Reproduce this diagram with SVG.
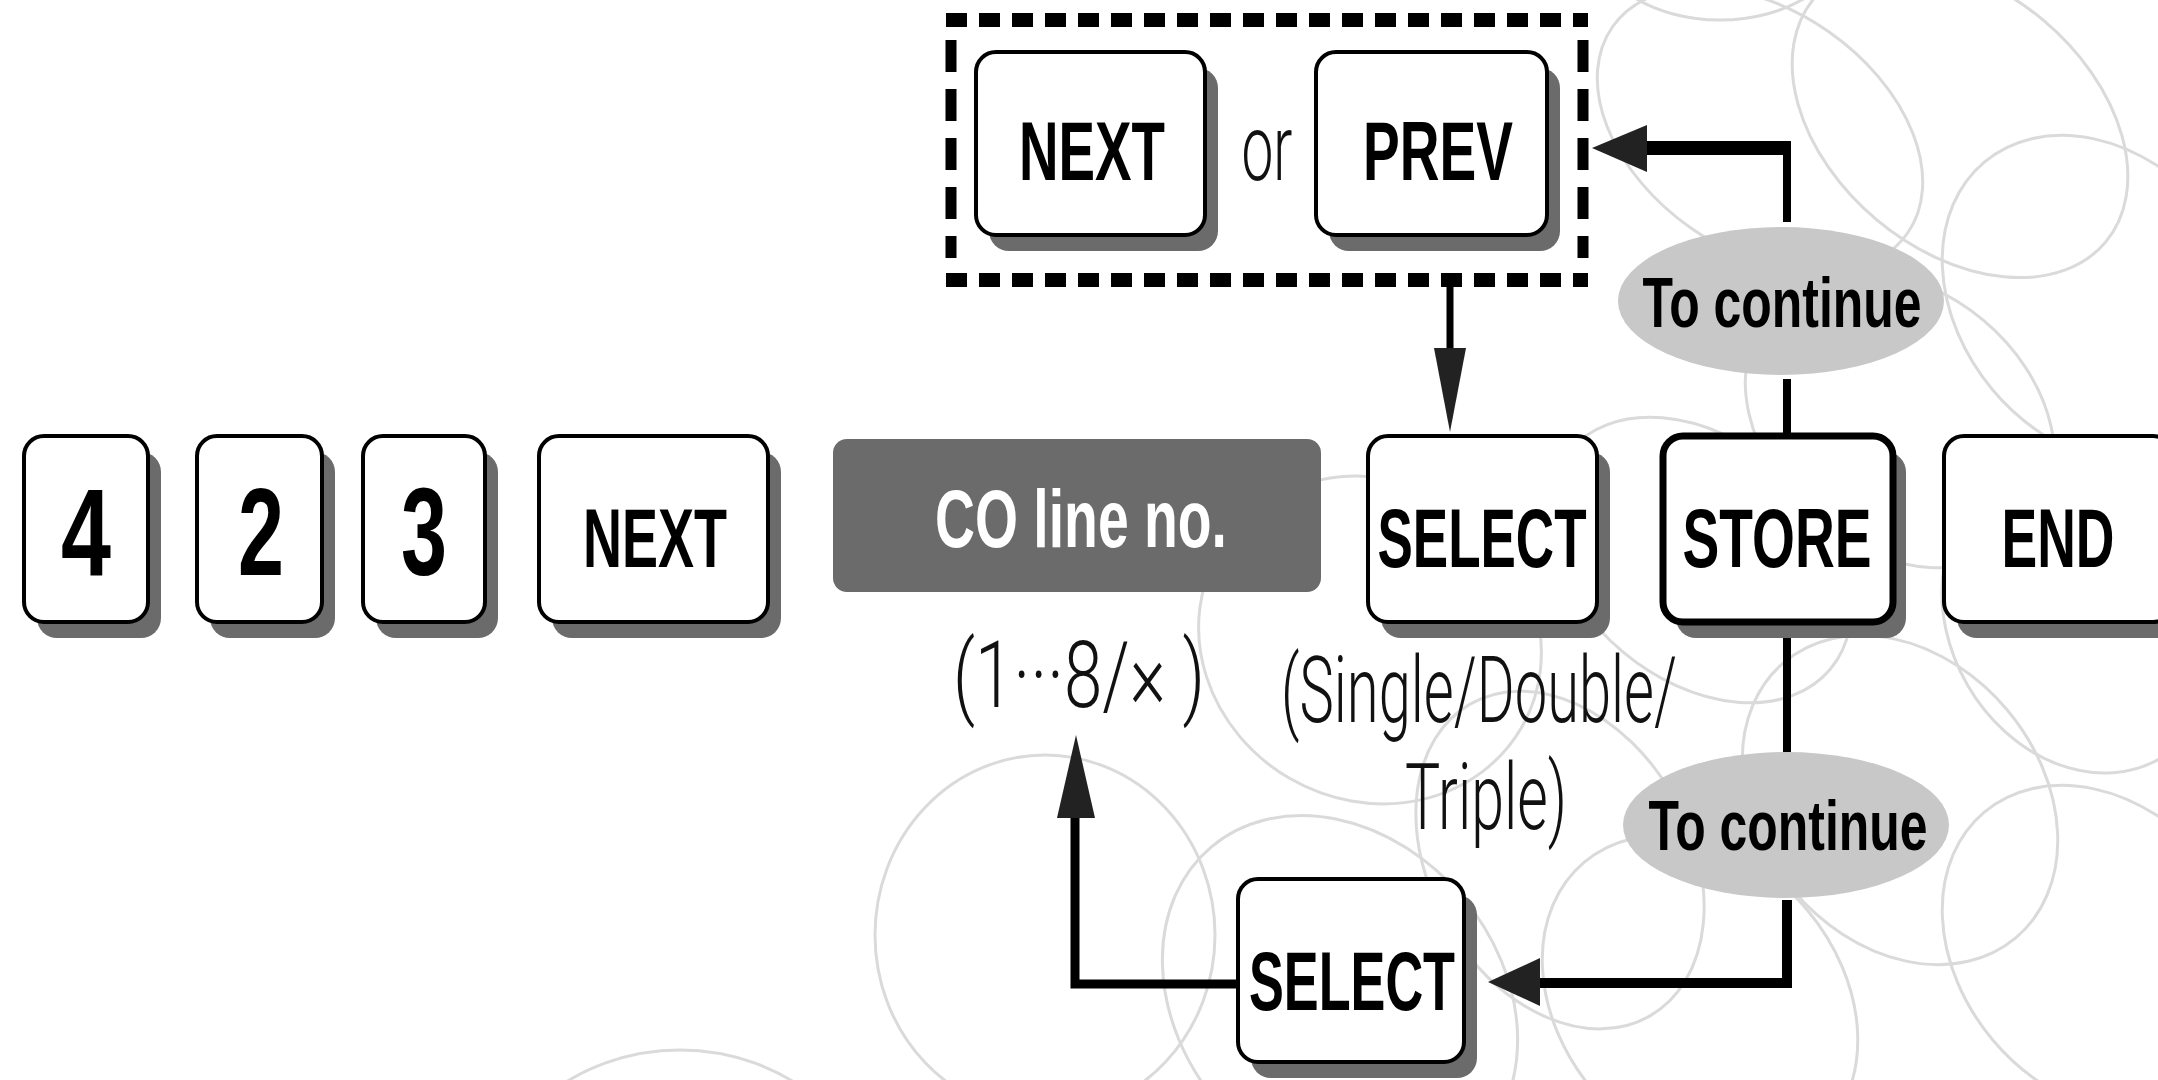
<svg xmlns="http://www.w3.org/2000/svg" width="2158" height="1080" viewBox="0 0 2158 1080">
<style>
.key{fill:#fff;stroke:#000;stroke-width:4}
.keyb{fill:#fff;stroke:#000;stroke-width:7}
.sh{fill:#6b6b6b}
.kt{font-family:"Liberation Sans Narrow","Liberation Sans",Arial,sans-serif;font-weight:bold;font-size:84px;text-anchor:middle;fill:#000}
.dg{font-size:125px}
.lt{font-family:Roboto,"Liberation Sans",Arial,sans-serif;font-weight:300;font-size:92px;text-anchor:middle;fill:#111}
.tc{font-family:"Liberation Sans Narrow","Liberation Sans",Arial,sans-serif;font-weight:bold;font-size:70px;text-anchor:middle;fill:#000}
.ov{fill:#c8c8c8}
.ln{stroke:#000;fill:none}
.hd{fill:#222}
.bg{fill:none;stroke:#dadada;stroke-width:3}
.dh{stroke:#000;stroke-width:14;stroke-dasharray:21 12;fill:none}
.dv{stroke:#000;stroke-width:11;stroke-dasharray:32 17;fill:none}
</style>
<rect x="0" y="0" width="2158" height="1080" fill="#fff"/>
<g id="background">
<ellipse class="bg" cx="1045" cy="935" rx="170" ry="180"/>
<ellipse class="bg" cx="680" cy="1230" rx="200" ry="180"/>
<ellipse class="bg" cx="1370" cy="640" rx="175" ry="160" transform="rotate(30 1370 640)"/>
<ellipse class="bg" cx="1340" cy="1000" rx="200" ry="160" transform="rotate(50 1340 1000)"/>
<ellipse class="bg" cx="1720" cy="-70" rx="130" ry="90"/>
<ellipse class="bg" cx="1760" cy="130" rx="180" ry="120" transform="rotate(35 1760 130)"/>
<ellipse class="bg" cx="1960" cy="120" rx="190" ry="130" transform="rotate(40 1960 120)"/>
<ellipse class="bg" cx="2100" cy="300" rx="180" ry="140" transform="rotate(50 2100 300)"/>
<ellipse class="bg" cx="1900" cy="420" rx="170" ry="130" transform="rotate(40 1900 420)"/>
<ellipse class="bg" cx="1700" cy="560" rx="170" ry="120" transform="rotate(40 1700 560)"/>
<ellipse class="bg" cx="2080" cy="620" rx="160" ry="130" transform="rotate(60 2080 620)"/>
<ellipse class="bg" cx="1900" cy="800" rx="180" ry="140" transform="rotate(50 1900 800)"/>
<ellipse class="bg" cx="2100" cy="950" rx="180" ry="140" transform="rotate(50 2100 950)"/>
<ellipse class="bg" cx="1700" cy="1000" rx="180" ry="140" transform="rotate(50 1700 1000)"/>
<ellipse class="bg" cx="1560" cy="860" rx="180" ry="130" transform="rotate(60 1560 860)"/>
</g>
<g id="connectors">
<line class="ln" x1="1787" y1="222" x2="1787" y2="141" stroke-width="8"/>
<line class="ln" x1="1640" y1="148" x2="1791" y2="148" stroke-width="14"/>
<polygon class="hd" points="1592,148 1647,125 1647,172"/>
<line class="ln" x1="1450" y1="287" x2="1450" y2="352" stroke-width="7"/>
<polygon class="hd" points="1434,348 1466,348 1450,432"/>
<line class="ln" x1="1787" y1="379" x2="1787" y2="436" stroke-width="8"/>
<line class="ln" x1="1787" y1="622" x2="1787" y2="752" stroke-width="8"/>
<polyline class="ln" points="1787,900 1787,983 1535,983" stroke-width="10"/>
<polygon class="hd" points="1488,982 1540,958 1540,1006"/>
<polyline class="ln" points="1238,984 1075,984 1075,812" stroke-width="9"/>
<polygon class="hd" points="1076,735 1057,818 1095,818"/>
</g>
<g id="frame">
<line class="dh" x1="946" y1="20" x2="1588" y2="20"/>
<line class="dh" x1="946" y1="280" x2="1588" y2="280"/>
<line class="dv" x1="951" y1="40" x2="951" y2="258"/>
<line class="dv" x1="1583" y1="40" x2="1583" y2="258"/>
</g>
<g id="key-4"><rect class="sh" x="37" y="452" width="124" height="186" rx="20"/><rect class="key" x="24" y="436" width="124" height="186" rx="20"/><text class="kt dg" x="86" y="575" textLength="50" lengthAdjust="spacingAndGlyphs">4</text></g>
<g id="key-2"><rect class="sh" x="210" y="452" width="125" height="186" rx="20"/><rect class="key" x="197" y="436" width="125" height="186" rx="20"/><text class="kt dg" x="261" y="575" textLength="46" lengthAdjust="spacingAndGlyphs">2</text></g>
<g id="key-3"><rect class="sh" x="376" y="452" width="122" height="186" rx="20"/><rect class="key" x="363" y="436" width="122" height="186" rx="20"/><text class="kt dg" x="424" y="575" textLength="46" lengthAdjust="spacingAndGlyphs">3</text></g>
<g id="key-next"><rect class="sh" x="552" y="452" width="229" height="186" rx="20"/><rect class="key" x="539" y="436" width="229" height="186" rx="20"/><text class="kt" x="655" y="567" textLength="144" lengthAdjust="spacingAndGlyphs">NEXT</text></g>
<g id="co-line"><rect x="833" y="439" width="488" height="153" rx="14" fill="#6b6b6b"/><text class="kt" x="1081" y="547" style="fill:#fff;font-size:81px" textLength="292" lengthAdjust="spacingAndGlyphs">CO line no.</text></g>
<g id="co-range"><text class="lt" x="1079" y="707" textLength="252" lengthAdjust="spacingAndGlyphs">(1···8/× )</text></g>
<g id="key-select"><rect class="sh" x="1381" y="452" width="229" height="186" rx="20"/><rect class="key" x="1368" y="436" width="229" height="186" rx="20"/><text class="kt" x="1482" y="567" textLength="209" lengthAdjust="spacingAndGlyphs">SELECT</text></g>
<g id="select-note"><text class="lt" x="1479" y="722" textLength="396" lengthAdjust="spacingAndGlyphs">(Single/Double/</text><text class="lt" x="1486" y="829" textLength="162" lengthAdjust="spacingAndGlyphs">Triple)</text></g>
<g id="key-store"><rect class="sh" x="1676" y="452" width="230" height="186" rx="20"/><rect class="keyb" x="1663" y="436" width="230" height="186" rx="20"/><text class="kt" x="1777" y="567" textLength="189" lengthAdjust="spacingAndGlyphs">STORE</text></g>
<g id="key-end"><rect class="sh" x="1957" y="452" width="229" height="186" rx="20"/><rect class="key" x="1944" y="436" width="229" height="186" rx="20"/><text class="kt" x="2058" y="567" textLength="113" lengthAdjust="spacingAndGlyphs">END</text></g>
<g id="key-next2"><rect class="sh" x="989" y="68" width="229" height="183" rx="20"/><rect class="key" x="976" y="52" width="229" height="183" rx="20"/><text class="kt" x="1092" y="180" textLength="146" lengthAdjust="spacingAndGlyphs">NEXT</text></g>
<g id="or-label"><text class="lt" x="1267" y="180" textLength="51" lengthAdjust="spacingAndGlyphs">or</text></g>
<g id="key-prev"><rect class="sh" x="1329" y="68" width="231" height="183" rx="20"/><rect class="key" x="1316" y="52" width="231" height="183" rx="20"/><text class="kt" x="1438" y="180" textLength="150" lengthAdjust="spacingAndGlyphs">PREV</text></g>
<g id="continue-top"><ellipse class="ov" cx="1781" cy="301" rx="163" ry="74"/><text class="tc" x="1782" y="327" textLength="279" lengthAdjust="spacingAndGlyphs">To continue</text></g>
<g id="continue-bottom"><ellipse class="ov" cx="1786" cy="825" rx="163" ry="73"/><text class="tc" x="1788" y="850" textLength="279" lengthAdjust="spacingAndGlyphs">To continue</text></g>
<g id="key-select2"><rect class="sh" x="1251" y="895" width="226" height="183" rx="20"/><rect class="key" x="1238" y="879" width="226" height="183" rx="20"/><text class="kt" x="1352" y="1010" textLength="206" lengthAdjust="spacingAndGlyphs">SELECT</text></g>
</svg>
